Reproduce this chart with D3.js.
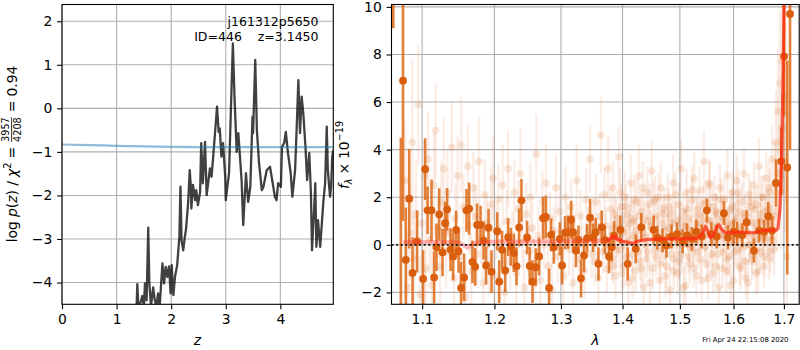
<!DOCTYPE html>
<html><head><meta charset="utf-8">
<script src="https://cdn.jsdelivr.net/npm/d3@7"></script>
<style>
body{margin:0;background:#fff}
svg{display:block;font-family:"DejaVu Sans",sans-serif}
</style></head><body>
<svg id="c" width="800" height="350"></svg>
<script>
// ---------------- DATA ----------------
// left panel: log p(z) curve
const pzZ=[1.364,1.38,1.40,1.45,1.47,1.50,1.52,1.55,1.58,1.60,1.63,1.67,1.70,1.73,1.76,1.79,1.84,1.87,1.90,1.93,1.96,1.99,2.01,2.04,2.07,2.11,2.15,2.17,2.19,2.22,2.25,2.27,2.31,2.34,2.36,2.37,2.40,2.44,2.46,2.49,2.53,2.55,2.58,2.62,2.65,2.68,2.71,2.74,2.77,2.84,2.87,2.89,2.92,2.95,2.99,3.00,3.03,3.06,3.13,3.16,3.20,3.23,3.26,3.29,3.32,3.37,3.41,3.45,3.49,3.50,3.54,3.57,3.61,3.66,3.69,3.75,3.81,3.86,3.90,3.93,3.96,4.01,4.03,4.07,4.10,4.14,4.19,4.22,4.27,4.30,4.33,4.36,4.39,4.42,4.46,4.49,4.53,4.56,4.58,4.62,4.64,4.66,4.69,4.73,4.76,4.79,4.82,4.85,4.87,4.91,4.93,4.95,4.97];
const pzLog=[-4.63,-4.04,-4.59,-4.41,-4.31,-4.54,-4.02,-4.41,-2.74,-4.02,-4.54,-4.11,-4.41,-4.54,-4.25,-4.54,-3.56,-4.02,-3.64,-3.87,-3.63,-4.25,-3.60,-4.29,-3.87,-3.60,-2.95,-1.80,-3.03,-3.26,-2.95,-2.80,-2.18,-1.42,-1.80,-2.30,-1.76,-2.11,-1.88,-2.22,-1.92,-0.80,-1.72,-0.77,-1.99,-1.69,-1.38,-1.57,-1.11,0.04,-0.54,-0.46,-1.11,-0.80,-1.57,-2.11,-1.80,-1.49,1.49,0.27,-1.00,-0.57,-1.11,-1.65,-2.68,-1.49,-2.15,-1.80,-0.19,-0.57,1.11,-0.50,-1.26,-1.88,-1.80,-1.42,-1.34,-1.72,-2.03,-2.11,-1.72,-1.80,-0.88,-0.80,-0.54,-1.03,-1.49,-2.03,-1.42,-0.42,0.65,-0.57,0.27,-0.11,-0.88,-1.65,-1.03,-1.95,-3.26,-2.26,-1.72,-3.18,-2.57,-3.18,-2.64,-2.11,-1.72,-0.42,-1.42,-2.03,-1.80,-1.11,-0.96];
// prior curve (blue)
const priorZ=[0,0.5,1,1.5,2,2.5,3,4,4.97];
const priorLog=[-0.83,-0.845,-0.86,-0.875,-0.885,-0.89,-0.89,-0.89,-0.89];
const zTicks=[0,1,2,3,4];
const pTicks=[-4,-3,-2,-1,0,1,2];

// right panel: spectrum
const lamTicks=[1.1,1.2,1.3,1.4,1.5,1.6,1.7];
const fluxTicks=[-2,0,2,4,6,8,10];
// [wavelength (micron), flux, error]  -- faint (individual exposures)
const faintPoints=[
[1.078,2.7,2.5],[1.081,-1.8,2.2],[1.084,0.5,2.0],[1.087,4.3,3.5],[1.089,-0.6,1.8],[1.092,1.3,2.3],[1.095,5.9,2.5],[1.097,-2.1,1.6],[1.100,0.9,1.9],[1.103,2.9,1.5],
[1.105,-1.0,1.7],[1.108,3.6,2.0],[1.110,0.2,1.4],[1.113,-1.7,1.8],[1.116,2.5,2.2],[1.118,4.8,2.0],[1.121,0.7,1.3],[1.124,-0.9,1.6],[1.126,1.8,1.7],[1.129,3.2,2.1],
[1.132,-0.3,1.5],[1.134,2.2,1.8],[1.137,0.5,1.2],[1.140,4.1,1.9],[1.143,-1.4,1.6],[1.145,1.1,1.5],[1.148,2.9,1.7],[1.151,-0.5,1.3],[1.153,4.2,2.0],[1.156,1.6,1.4],
[1.159,-2.2,1.5],[1.162,3.3,1.8],[1.164,0.8,1.2],[1.167,-1.1,1.6],[1.170,2.4,1.5],[1.173,1.2,1.3],[1.175,-0.4,1.4],[1.178,3.5,1.9],[1.181,0.3,1.1],[1.184,-1.6,1.7],
[1.186,2.1,1.5],[1.189,0.9,1.2],[1.192,-0.8,1.4],[1.195,1.7,1.6],[1.198,2.8,1.8],[1.200,-1.3,1.3],[1.203,0.6,1.2],[1.206,1.9,1.5],[1.209,-0.2,1.1],[1.212,2.5,1.7],
[1.215,-2.0,1.4],[1.218,1.0,1.3],[1.220,3.2,1.6],[1.223,-0.7,1.2],[1.226,0.4,1.0],[1.229,2.2,1.4],[1.232,-1.2,1.5],[1.235,1.5,1.2],[1.238,3.0,1.9],[1.241,0.1,1.1],
[1.244,-1.8,1.6],[1.247,1.3,1.3],[1.250,-0.3,1.0],[1.253,2.0,1.5],[1.256,0.7,1.1],[1.259,-1.0,1.3],[1.262,3.8,1.7],[1.265,0.4,1.2],[1.268,-1.5,1.4],[1.271,1.8,1.3],
[1.274,0.0,1.0],[1.277,2.6,1.6],[1.280,-0.9,1.2],[1.283,1.1,1.1],[1.286,-1.9,1.5],[1.289,0.6,1.0],[1.292,2.4,1.4],[1.295,-0.5,1.1],[1.298,1.4,1.2],[1.301,0.2,0.9],
[1.304,-1.3,1.3],[1.307,2.0,1.3],[1.310,0.8,1.0],[1.313,-0.2,1.1],[1.316,1.6,1.2],[1.319,-1.6,1.4],[1.322,0.5,0.9],[1.325,2.7,1.5],[1.328,-0.6,1.0],[1.331,1.2,1.1],
[1.334,0.0,0.9],[1.337,-1.1,1.2],[1.340,1.9,1.3],[1.343,0.6,1.0],[1.346,3.6,1.4],[1.349,-0.4,1.0],
[1.352,0.9,1.1],[1.354,-0.7,1.0],[1.356,1.8,1.2],[1.358,0.2,0.9],[1.360,-1.4,1.1],[1.362,1.2,1.0],[1.364,4.6,1.6],[1.366,0.5,0.8],[1.368,-0.3,0.9],[1.370,2.1,1.2],
[1.372,0.8,0.8],[1.374,-1.0,1.0],[1.376,3.2,1.4],[1.378,0.0,0.8],[1.380,1.5,1.0],[1.382,-0.6,0.9],[1.384,2.4,1.1],[1.386,0.7,0.8],[1.388,-1.3,1.0],[1.390,1.1,0.9],
[1.392,0.3,0.8],[1.394,3.7,1.3],[1.396,-0.2,0.8],[1.398,1.6,1.0],[1.400,0.6,0.8],[1.402,-0.9,0.9],[1.404,2.0,1.1],[1.406,0.1,0.8],[1.408,1.3,0.9],[1.410,-1.6,1.0],
[1.412,0.9,0.8],[1.414,2.6,1.2],[1.416,-0.4,0.8],[1.418,1.0,0.9],[1.420,0.4,0.7],[1.422,-1.1,0.9],[1.424,1.8,1.0],[1.426,0.2,0.7],[1.428,2.9,1.3],[1.430,-0.7,0.8],
[1.432,1.4,0.9],[1.434,0.5,0.7],[1.436,-1.8,1.0],[1.438,1.1,0.8],[1.440,0.0,0.7],[1.442,2.2,1.1],[1.444,-0.3,0.8],[1.446,1.7,0.9],[1.448,0.8,0.7],[1.450,3.1,1.3],
[1.452,-1.0,0.9],[1.454,0.6,0.7],[1.456,1.9,1.0],[1.458,-0.5,0.8],[1.460,1.2,0.8],[1.462,0.3,0.7],[1.464,-1.5,1.0],[1.466,2.4,1.1],[1.468,0.9,0.8],[1.470,-0.2,0.7],
[1.472,1.5,0.9],[1.474,0.1,0.7],[1.476,-0.9,0.9],[1.478,2.0,1.0],[1.480,0.7,0.7],[1.482,-1.9,1.0],[1.484,1.3,0.8],[1.486,0.4,0.7],[1.488,2.6,1.2],[1.490,-0.6,0.8],
[1.492,1.0,0.8],[1.494,0.2,0.7],[1.496,-1.2,0.9],[1.498,1.7,0.9],[1.500,0.5,0.7],[1.502,3.2,1.2],[1.504,-0.4,0.8],[1.506,1.4,0.8],[1.508,0.8,0.7],[1.510,-1.7,1.0],
[1.512,2.2,1.0],[1.514,0.0,0.7],[1.516,1.1,0.8],[1.518,-0.8,0.8],[1.520,0.6,0.7],[1.522,1.9,0.9],[1.524,-0.2,0.7],[1.526,2.8,1.1],[1.528,0.9,0.7],[1.530,-1.3,0.9],
[1.532,1.5,0.8],[1.534,0.3,0.7],[1.536,2.3,1.0],[1.538,-0.6,0.8],[1.540,1.2,0.8],[1.542,0.7,0.7],[1.544,3.5,1.3],[1.546,-0.1,0.7],[1.548,1.8,0.9],[1.550,0.5,0.7],
[1.552,-1.4,0.9],[1.554,2.6,1.0],[1.556,1.0,0.7],[1.558,-0.4,0.8],[1.560,1.6,0.8],[1.562,0.2,0.7],[1.564,2.0,0.9],[1.566,-0.9,0.8],[1.568,1.3,0.8],[1.570,0.8,0.7],
[1.572,-1.8,1.0],[1.574,2.4,1.0],[1.576,0.4,0.7],[1.578,1.1,0.8],[1.580,-0.3,0.7],[1.582,1.9,0.9],[1.584,0.6,0.7],[1.586,-1.1,0.9],[1.588,2.9,1.1],[1.590,0.9,0.7],
[1.592,-0.5,0.8],[1.594,1.5,0.8],[1.596,0.1,0.7],[1.598,2.2,0.9],[1.600,-1.5,1.0],[1.602,1.0,0.8],[1.604,0.6,0.7],[1.606,2.7,1.1],[1.608,-0.2,0.7],[1.610,1.4,0.8],
[1.612,0.3,0.7],[1.614,-1.0,0.9],[1.616,1.8,0.8],[1.618,0.8,0.7],[1.620,3.0,1.1],[1.622,-0.7,0.8],[1.624,1.2,0.8],[1.626,0.5,0.7],[1.628,-1.6,1.0],[1.630,2.1,0.9],
[1.632,0.0,0.7],[1.634,1.6,0.8],[1.636,-0.4,0.8],[1.638,0.9,0.7],[1.640,2.5,1.0],[1.642,0.2,0.7],[1.644,-1.2,0.9],[1.646,1.7,0.8],[1.648,0.7,0.7],[1.650,3.3,1.2],
[1.652,-0.3,0.8],[1.654,1.3,0.8],[1.656,0.4,0.7],[1.658,2.0,0.9],[1.660,-0.9,0.9],[1.662,1.0,0.8],[1.664,2.8,1.1],[1.666,0.3,0.8],[1.668,1.5,0.9],[1.670,-0.6,0.9],
[1.672,2.2,1.0],[1.674,0.8,0.9],[1.676,3.6,1.4],[1.678,1.2,1.0],[1.680,-0.2,1.1],
[1.682,2.5,1.8],[1.684,4.3,2.2],[1.686,1.4,1.6],[1.688,5.6,2.6],[1.690,3.0,2.0],[1.692,6.8,3.0],[1.694,2.2,2.4],[1.696,7.7,3.2],[1.698,4.9,2.8],[1.700,6.2,3.5],
[1.702,3.5,3.0],[1.704,5.5,3.8],[1.706,-0.5,3.0]
];
// second exposure set in the dense red part
const faintPoints2=[
[1.381,0.4,0.9],[1.384,-0.9,0.8],[1.387,1.3,0.9],[1.390,-0.2,0.8],[1.393,0.8,0.8],[1.396,2.2,1.0],[1.399,-1.2,0.9],[1.402,0.5,0.7],[1.405,1.6,0.9],[1.408,-0.5,0.8],
[1.411,0.2,0.7],[1.414,1.1,0.8],[1.417,-1.4,0.9],[1.420,1.9,1.0],[1.423,0.6,0.7],[1.426,-0.3,0.7],[1.429,1.2,0.8],[1.432,-1.0,0.8],[1.435,2.4,1.1],[1.438,0.3,0.7],
[1.441,-0.6,0.8],[1.444,1.0,0.7],[1.447,-1.6,0.9],[1.450,0.7,0.7],[1.453,1.8,0.9],[1.456,-0.2,0.7],[1.459,0.5,0.7],[1.462,2.0,1.0],[1.465,-0.8,0.8],[1.468,0.1,0.7],
[1.471,1.3,0.8],[1.474,-1.3,0.9],[1.477,0.6,0.7],[1.480,1.6,0.8],[1.483,-0.4,0.7],[1.486,0.9,0.7],[1.489,-1.1,0.8],[1.492,2.1,1.0],[1.495,0.3,0.7],[1.498,-0.7,0.8],
[1.501,1.1,0.7],[1.504,0.0,0.7],[1.507,-1.8,0.9],[1.510,0.8,0.7],[1.513,1.5,0.8],[1.516,-0.5,0.7],[1.519,0.4,0.7],[1.522,2.3,1.0],[1.525,-1.0,0.8],[1.528,0.2,0.7],
[1.531,1.2,0.8],[1.534,-0.3,0.7],[1.537,0.9,0.7],[1.540,-1.5,0.9],[1.543,1.7,0.8],[1.546,0.4,0.7],[1.549,-0.8,0.8],[1.552,1.0,0.7],[1.555,2.5,1.0],[1.558,0.1,0.7],
[1.561,-1.2,0.8],[1.564,0.7,0.7],[1.567,1.4,0.8],[1.570,-0.4,0.7],[1.573,0.5,0.7],[1.576,1.9,0.9],[1.579,-1.0,0.8],[1.582,0.3,0.7],[1.585,1.2,0.8],[1.588,-0.6,0.7],
[1.591,0.8,0.7],[1.594,-1.7,0.9],[1.597,1.6,0.8],[1.600,0.2,0.7],[1.603,-0.3,0.7],[1.606,1.1,0.8],[1.609,2.2,1.0],[1.612,-0.9,0.8],[1.615,0.6,0.7],[1.618,-0.1,0.7],
[1.621,1.3,0.8],[1.624,-1.4,0.9],[1.627,0.9,0.7],[1.630,0.0,0.7],[1.633,1.8,0.9],[1.636,-0.7,0.8],[1.639,0.4,0.7],[1.642,1.5,0.8],[1.645,-0.2,0.7],[1.648,-1.1,0.9],
[1.651,1.0,0.8],[1.654,2.0,0.9],[1.657,0.3,0.8],[1.660,-0.5,0.8],[1.663,1.4,0.9],[1.666,0.6,0.8],[1.669,2.4,1.1],[1.672,-0.3,0.9],[1.675,1.1,0.9],[1.678,0.2,1.0]
];
// [wavelength, flux, error] -- binned (dark) points
const darkPoints=[
[1.0625,13.0,3.9],[1.0722,-3.2,7.7],[1.0750,6.9,5.9],[1.0786,-0.63,2.2],[1.0830,1.94,2.1],[1.0874,-1.18,1.5],[1.0934,0.14,1.3],[1.1013,-1.43,1.2],[1.1040,3.18,1.3],[1.1072,1.45,1.0],
[1.1125,1.45,1.3],[1.1160,-1.37,1.1],[1.1192,-0.10,1.0],[1.1228,1.28,1.1],[1.1273,-0.32,1.0],[1.1309,0.91,0.9],[1.1336,1.49,0.9],[1.1383,-0.20,0.9],[1.1418,-0.49,1.0],[1.1459,0.63,0.8],
[1.1493,-0.27,0.9],[1.1528,-1.81,1.1],[1.1570,-1.37,1.0],[1.1603,1.45,0.9],[1.1640,1.52,1.1],[1.1687,-0.72,0.9],[1.1725,-0.92,0.8],[1.1753,0.84,0.9],[1.1801,0.84,0.8],[1.1844,0.18,0.8],
[1.1880,-0.87,0.8],[1.1915,0.72,0.8],[1.1958,-1.13,0.9],[1.2040,0.57,0.8],[1.2069,-1.55,0.9],[1.2112,-0.21,0.8],[1.2156,-1.08,0.9],[1.2200,0.32,0.8],[1.2239,-0.08,0.8],[1.2283,-0.34,0.8],
[1.2323,-0.90,0.8],[1.2362,0.73,0.8],[1.2397,1.87,0.9],[1.2481,0.31,0.7],[1.2521,-0.89,0.8],[1.2562,-1.55,0.9],[1.2612,-0.94,0.8],[1.2663,-0.49,0.8],[1.2724,1.12,0.9],[1.2766,1.17,0.9],
[1.2816,-1.81,0.8],[1.2847,0.42,0.7],[1.2889,-0.10,0.7],[1.2982,0.25,0.7],[1.3018,-0.87,0.8],[1.3065,0.51,0.7],[1.3112,0.53,0.7],[1.3160,1.05,0.8],[1.3191,0.53,0.7],[1.3235,-0.24,0.7],
[1.3277,0.21,0.6],[1.3318,-1.41,0.8],[1.3366,-0.45,0.7],[1.3415,0.28,0.6],[1.3464,1.14,0.8],[1.3512,0.30,0.6],[1.3555,0.53,0.6],[1.3600,-0.80,0.7],[1.3653,0.74,0.7],[1.3704,0.21,0.6],
[1.3774,-0.49,0.7],[1.3819,-0.10,0.6],[1.3857,0.39,0.6],[1.3964,0.63,0.6],[1.4087,-0.80,0.7],[1.4224,-0.17,0.6],[1.4320,0.74,0.6],[1.4534,0.63,0.6],[1.4600,0.30,0.5],[1.4690,0.20,0.5],
[1.4760,-0.03,0.5],[1.4850,0.35,0.5],[1.4950,0.45,0.5],[1.5050,0.15,0.5],[1.5130,0.40,0.5],[1.5220,0.25,0.5],[1.5300,0.55,0.5],[1.5400,0.35,0.5],[1.5495,1.45,0.5],[1.5580,0.45,0.5],
[1.5680,0.35,0.5],[1.5816,1.33,0.5],[1.5892,0.31,0.5],[1.6000,0.55,0.5],[1.6071,0.46,0.5],[1.6170,0.40,0.5],[1.6254,0.95,0.5],[1.6397,-0.24,0.5],[1.6501,0.60,0.5],[1.6600,0.55,0.5],
[1.6683,1.20,0.6],[1.6760,0.60,0.6],[1.6839,2.60,1.0],[1.6947,3.51,1.4],[1.7003,7.92,2.5],[1.7069,3.25,4.5],[1.7126,9.70,5.7]
];
// best-fit model
const modelLam=[1.075,1.10,1.13,1.15,1.158,1.162,1.167,1.175,1.20,1.25,1.30,1.35,1.375,1.382,1.386,1.392,1.40,1.41,1.418,1.425,1.44,1.46,1.50,1.53,1.540,1.547,1.551,1.556,1.562,1.567,1.572,1.578,1.585,1.60,1.62,1.64,1.655,1.67,1.685,1.688,1.692,1.695,1.697,1.699,1.701];
const modelFlux=[0.12,0.12,0.12,0.10,-0.05,-0.12,0.0,0.10,0.13,0.14,0.15,0.16,0.18,0.30,0.35,0.22,0.15,0.10,0.05,0.15,0.22,0.24,0.25,0.27,0.40,0.78,0.60,0.30,0.40,0.72,0.85,0.62,0.50,0.52,0.52,0.50,0.58,0.62,0.62,0.70,1.5,3.5,5.5,8.0,11.0];

const objName="j161312p5650";
const objInfo="ID=446    z=3.1450";
const stamp="Fri Apr 24 22:15:08 2020";

// ---------------- DRAW ----------------
const svg=d3.select("#c");
const FS=13.9, FONT="DejaVu Sans";
const grid="#b0b0b0";
const L={x0:62,x1:333.3,y0:4.5,y1:304.3};
const R={x0:391.5,x1:799.2,y0:4.5,y1:304.3};

const zS=d3.scaleLinear([0,4.97],[L.x0,L.x1]);
const pS=d3.scaleLinear([-4.5,2.385],[L.y1,L.y0]);
const lS=d3.scaleLog([1.0602,1.7316],[R.x0,R.x1]);
const fS=d3.scaleLinear([-2.5,10.1],[R.y1,R.y0]);

const defs=svg.append("defs");
[["clipL",L],["clipR",R]].forEach(([id,b])=>{
  defs.append("clipPath").attr("id",id).append("rect")
   .attr("x",b.x0).attr("y",b.y0).attr("width",b.x1-b.x0).attr("height",b.y1-b.y0);
});

function gridLines(b,xs,xv,ys,yv){
  const g=svg.append("g");
  g.selectAll(".gx").data(xv).join("line").attr("x1",d=>xs(d)).attr("x2",d=>xs(d))
   .attr("y1",b.y0).attr("y2",b.y1).attr("stroke",grid).attr("stroke-width",1.1);
  g.selectAll(".gy").data(yv).join("line").attr("y1",d=>ys(d)).attr("y2",d=>ys(d))
   .attr("x1",b.x0).attr("x2",b.x1).attr("stroke",grid).attr("stroke-width",1.1);
}
function axes(b,xs,xv,xf,ys,yv,yf){
  const gx=svg.append("g").attr("transform",`translate(0,${b.y1})`)
    .call(d3.axisBottom(xs).tickValues(xv).tickFormat(xf).tickSize(4.86).tickPadding(4.86));
  const gy=svg.append("g").attr("transform",`translate(${b.x0},0)`)
    .call(d3.axisLeft(ys).tickValues(yv).tickFormat(yf).tickSize(4.86).tickPadding(4.86));
  [gx,gy].forEach(g=>{
    g.attr("font-size",FS).attr("font-family",FONT);
    g.select(".domain").remove();
    g.selectAll(".tick line").attr("stroke","#000").attr("stroke-width",1.1);
    g.selectAll(".tick text").attr("fill","#000");
  });
  svg.append("rect").attr("x",b.x0).attr("y",b.y0).attr("width",b.x1-b.x0).attr("height",b.y1-b.y0)
    .attr("fill","none").attr("stroke","#000").attr("stroke-width",1.1);
}

// ---- left panel
gridLines(L,zS,zTicks,pS,pTicks);
const lc=svg.append("g").attr("clip-path","url(#clipL)");
lc.append("path").datum(d3.range(pzZ.length))
  .attr("d",d3.line().x(i=>zS(pzZ[i])).y(i=>pS(pzLog[i])))
  .attr("fill","none").attr("stroke","#000").attr("stroke-opacity",0.75).attr("stroke-width",2.3)
  .attr("stroke-linejoin","round");
lc.append("path").datum(d3.range(priorZ.length))
  .attr("d",d3.line().curve(d3.curveMonotoneX).x(i=>zS(priorZ[i])).y(i=>pS(priorLog[i])))
  .attr("fill","none").attr("stroke","#1f77b4").attr("stroke-opacity",0.5).attr("stroke-width",2.2);
axes(L,zS,zTicks,d3.format("d"),pS,pTicks,d3.format("d"));

svg.append("text").attr("x",318.5).attr("y",26).attr("text-anchor","end")
  .attr("font-size",12.5).text(objName);
svg.append("text").attr("x",318.5).attr("y",40.5).attr("text-anchor","end")
  .attr("font-size",12.5).attr("xml:space","preserve").style("white-space","pre").text(objInfo);

// ---- right panel
gridLines(R,lS,lamTicks,fS,fluxTicks);
const rc=svg.append("g").attr("clip-path","url(#clipR)");
const ORG="#d95f0e";
const allFaint=faintPoints.concat(faintPoints2);
const fg=rc.append("g");
fg.selectAll("line").data(allFaint).join("line")
  .attr("x1",d=>lS(d[0])).attr("x2",d=>lS(d[0]))
  .attr("y1",d=>fS(d[1]-d[2])).attr("y2",d=>fS(d[1]+d[2]))
  .attr("stroke",ORG).attr("stroke-opacity",0.11).attr("stroke-width",2.4);
fg.selectAll("circle").data(allFaint).join("circle")
  .attr("cx",d=>lS(d[0])).attr("cy",d=>fS(d[1])).attr("r",3.8)
  .attr("fill",ORG).attr("fill-opacity",0.15);
const dg=rc.append("g");
dg.selectAll("line").data(darkPoints).join("line")
  .attr("x1",d=>lS(d[0])).attr("x2",d=>lS(d[0]))
  .attr("y1",d=>fS(d[1]-d[2])).attr("y2",d=>fS(d[1]+d[2]))
  .attr("stroke","#dd6a18").attr("stroke-opacity",0.85).attr("stroke-width",2.6);
dg.selectAll("circle").data(darkPoints).join("circle")
  .attr("cx",d=>lS(d[0])).attr("cy",d=>fS(d[1])).attr("r",3.9)
  .attr("fill",ORG);
const mline=d3.line().x(i=>lS(modelLam[i])).y(i=>fS(modelFlux[i]));
const idx=d3.range(modelLam.length);
rc.append("path").datum(idx.filter(i=>modelLam[i]<=1.40))
  .attr("d",mline).attr("fill","none").attr("stroke","#ff3030").attr("stroke-opacity",0.35)
  .attr("stroke-width",4).attr("stroke-linejoin","round");
rc.append("path").datum(idx.filter(i=>modelLam[i]>=1.375))
  .attr("d",mline).attr("fill","none").attr("stroke","#ff2a10").attr("stroke-opacity",0.75)
  .attr("stroke-width",3.2).attr("stroke-linejoin","round");
rc.append("line").attr("x1",R.x0).attr("x2",R.x1).attr("y1",fS(0)).attr("y2",fS(0))
  .attr("stroke","#111").attr("stroke-width",1.8).attr("stroke-dasharray","2,2.6");
axes(R,lS,lamTicks,d3.format(".1f"),fS,fluxTicks,d3.format("d"));

// ---- axis labels
svg.append("text").attr("x",197.5).attr("y",345).attr("text-anchor","middle")
  .attr("font-size",FS).attr("font-style","italic").text("z");
svg.append("text").attr("x",595.3).attr("y",345).attr("text-anchor","middle")
  .attr("font-size",FS).attr("font-style","italic").text("λ");

function mathLabel(cx,cy,pieces){
  const g0=svg.append("g").attr("transform",`translate(${cx},${cy}) rotate(-90)`);
  const g=g0.append("g");
  let x=0;
  pieces.forEach(p=>{
    if(p.gap!==undefined){x+=p.gap;return;}
    if(p.frac){
      const tn=g.append("text").text(p.num).attr("font-size",p.size).attr("y",p.numY);
      const td=g.append("text").text(p.den).attr("font-size",p.size).attr("y",p.denY);
      const wn=tn.node().getComputedTextLength(), wd=td.node().getComputedTextLength();
      const w=Math.max(wn,wd), pad=1.2;
      tn.attr("x",x+pad+(w-wn)/2); td.attr("x",x+pad+(w-wd)/2);
      g.append("line").attr("x1",x+pad).attr("x2",x+pad+w).attr("y1",p.barY).attr("y2",p.barY)
        .attr("stroke","#000").attr("stroke-width",0.8);
      x+=w+2*pad; return;
    }
    const t=g.append("text").text(p.t).attr("x",x).attr("y",p.dy||0)
      .attr("font-size",p.size||FS).attr("font-style",p.it?"italic":"normal");
    x+=t.node().getComputedTextLength();
  });
  g.attr("transform",`translate(${-x/2},0)`);
}
mathLabel(16.5,154,[
  {t:"log"},{gap:4.2},{t:"p",it:1},{t:"("},{t:"z",it:1},{t:")"},{gap:4.2},{t:"/"},{gap:4.2},
  {t:"χ",it:1},{t:"2",size:9.7,dy:-5.8},{gap:3.9},{t:"="},{gap:3.9},
  {frac:1,num:"3957",den:"4208",size:9.7,numY:-7.2,denY:4.2,barY:-4.9},
  {gap:3.9},{t:"="},{gap:3.9},{t:"0.94"}
]);
mathLabel(349,155,[
  {t:"f",it:1},{t:"λ",it:1,size:9.7,dy:3},{gap:3.9},{t:"×"},{gap:3.9},{t:"10"},{t:"−19",size:9.7,dy:-5.8}
]);

svg.append("text").attr("x",788.5).attr("y",342).attr("text-anchor","end")
  .attr("font-size",6.9).text(stamp);
</script>
</body></html>
